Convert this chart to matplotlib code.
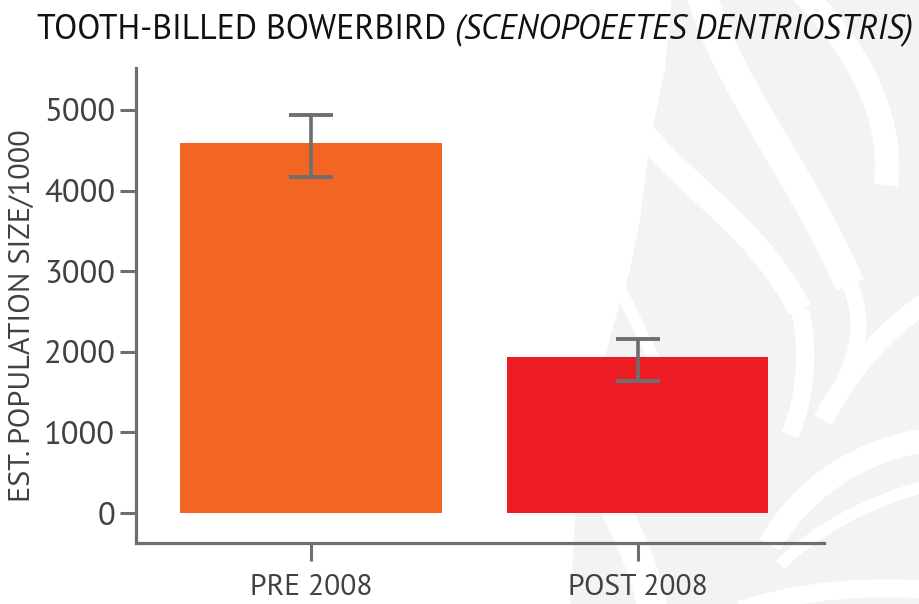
import matplotlib
matplotlib.use("Agg")
import matplotlib.pyplot as plt
from matplotlib import font_manager as fm
from matplotlib.path import Path
from matplotlib.patches import PathPatch

categories = ["PRE 2008", "POST 2008"]
values = [4590, 1935]
err_low = [420, 300]
err_high = [350, 225]
colors = ["#F26522", "#ED1C24"]
yticks = [0, 1000, 2000, 3000, 4000, 5000]

names = {f.name for f in fm.fontManager.ttflist}
def pick(cands):
    for c in cands:
        if c in names:
            return c
    return "DejaVu Sans"
fam = pick(["PT Sans", "Source Sans Pro", "Open Sans"])

W, H = 920, 604
fig = plt.figure(figsize=(W / 100, H / 100), dpi=100)
fig.patch.set_facecolor("white")

# ---- decorative background (light grey foliage) in pixel coords ----
bg = fig.add_axes([0, 0, 1, 1], zorder=-5)
bg.set_xlim(0, W)
bg.set_ylim(H, 0)
bg.axis("off")
M, C, L, Z = Path.MOVETO, Path.CURVE4, Path.LINETO, Path.CLOSEPOLY
sil = [(672, -5), (665, 70), (650, 140), (640, 220), (630, 270), (612, 330),
       (590, 420), (575, 520), (570, 610), (930, 610), (930, -5), (672, -5)]
bg.add_patch(PathPatch(Path(sil, [M] + [L] * 10 + [Z]), facecolor="#F3F3F3", edgecolor="none"))

def band(pts, w):
    bg.add_patch(PathPatch(Path(pts, [M, C, C, C]), facecolor="none", edgecolor="white",
                           linewidth=w * 0.72, capstyle="butt"))

band([(700, -10), (730, 90), (800, 170), (850, 285)], 30)
band([(850, 285), (865, 320), (858, 350), (845, 380)], 16)
band([(800, -10), (850, 40), (895, 110), (886, 185)], 24)
band([(645, 135), (690, 190), (760, 230), (800, 310)], 24)
band([(800, 310), (810, 350), (805, 400), (790, 435)], 18)
band([(930, 300), (885, 328), (850, 370), (823, 420)], 20)
band([(930, 440), (860, 448), (800, 490), (770, 545)], 24)
band([(930, 485), (870, 500), (815, 530), (780, 565)], 12)
band([(740, 610), (800, 590), (870, 585), (930, 590)], 18)
band([(612, 500), (630, 540), (648, 575), (652, 610)], 30)
band([(605, 255), (625, 300), (640, 330), (655, 360)], 12)

# ---- chart ----
ax = fig.add_axes([136 / W, 1 - 543 / H, (824 - 136) / W, (543 - 68) / H])
ax.set_facecolor("none")
x = list(range(len(categories)))
ax.bar(x, values, width=0.80, color=colors, zorder=2)
ax.errorbar(x, values, yerr=[err_low, err_high], fmt="none", ecolor="#6D6E71",
            elinewidth=2.6, capsize=15.5, capthick=2.8, zorder=3)

ax.set_xlim(-0.536, 1.571)
ax.set_ylim(-372, 5521)
grey = "#6D6E71"
for s in ["top", "right"]:
    ax.spines[s].set_visible(False)
for s in ["left", "bottom"]:
    ax.spines[s].set_color(grey)
    ax.spines[s].set_linewidth(2.3)

fig.canvas.draw()
r = fig.canvas.get_renderer()
def fit(text, target, base=20, **kw):
    t = fig.text(0, 0, text, fontsize=base, family=fam, **kw)
    w = t.get_window_extent(r).width
    t.remove()
    return base * target / w

fs_ytick = fit("5000", 72)
fs_xtick = fit("PRE 2008", 123)
fs_ylab = fit("EST. POPULATION SIZE/1000", 372)

ax.set_yticks(yticks)
ax.set_yticklabels([str(v) for v in yticks], fontsize=fs_ytick, color="#414042", family=fam)
ax.set_xticks(x)
ax.set_xticklabels(categories, fontsize=fs_xtick, color="#414042", family=fam)
ax.tick_params(axis="y", length=11.5, width=2.2, color=grey, pad=3.5)
ax.tick_params(axis="x", length=13, width=2.2, color=grey, pad=9)
ax.set_ylabel("EST. POPULATION SIZE/1000", fontsize=fs_ylab, color="#414042", family=fam)
ax.yaxis.set_label_coords((36 - 136) / (824 - 136), (543 - 315.5) / (543 - 68))

t1 = fig.text(37 / W, 1 - 30 / H, "TOOTH-BILLED BOWERBIRD ", fontsize=20, color="#111111",
              family=fam, va="center", ha="left")
t2 = fig.text(0.5, 1 - 30 / H, "(SCENOPOEETES DENTRIOSTRIS)", fontsize=20, color="#111111",
              family=fam, style="italic", va="center", ha="left")
wtot = t1.get_window_extent(r).width + t2.get_window_extent(r).width
fs_title = 20 * 875 / wtot
t1.set_fontsize(fs_title)
t2.set_fontsize(fs_title)
bb = t1.get_window_extent(r)
t2.set_x(bb.x1 / W)

fig.savefig("out.png", dpi=100)
